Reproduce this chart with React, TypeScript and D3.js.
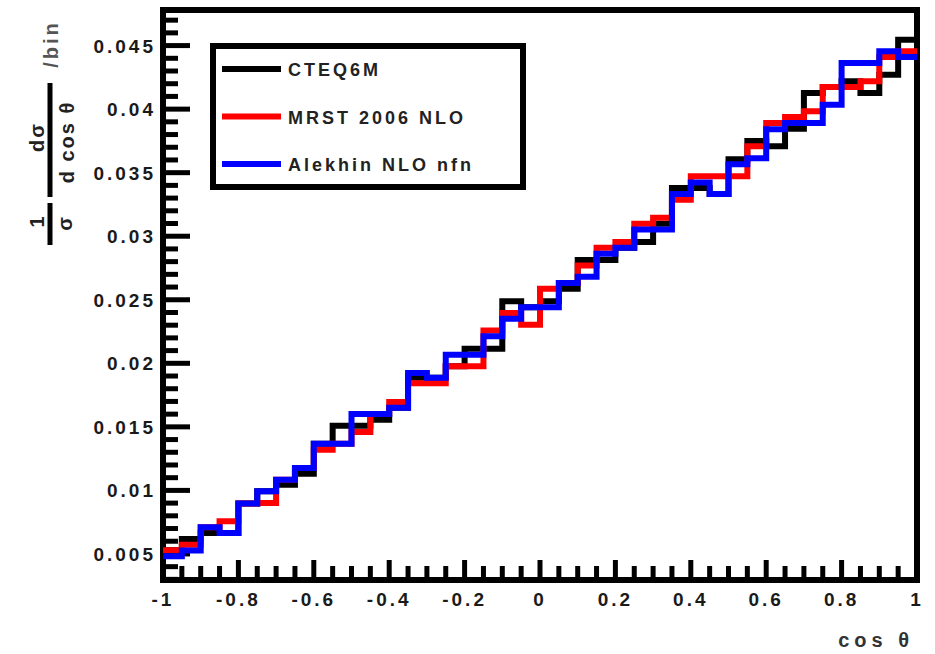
import { useEffect, useRef } from 'react';
import * as d3 from 'd3';

// 40 bins of 0.05 in cos theta, from -1 to 1
const binLow = -1;
const binWidth = 0.05;

const cteq6m = [0.00529, 0.00618, 0.00665, 0.00665, 0.00896, 0.00993, 0.01045, 0.01131, 0.01367, 0.01508,
    0.01508, 0.01556, 0.01650, 0.01886, 0.01886, 0.01976, 0.02115, 0.02115, 0.02489, 0.02441,
    0.02489, 0.02586, 0.02813, 0.02813, 0.02909, 0.02954, 0.03098, 0.03379, 0.03379, 0.03333,
    0.03606, 0.03750, 0.03707, 0.03845, 0.04126, 0.04174, 0.04219, 0.04126, 0.04270, 0.04546];

const mrst2006 = [0.00529, 0.00573, 0.00711, 0.00758, 0.00896, 0.00901, 0.01084, 0.01177, 0.01320, 0.01367,
    0.01460, 0.01601, 0.01696, 0.01843, 0.01843, 0.01976, 0.01976, 0.02258, 0.02396, 0.02304,
    0.02586, 0.02632, 0.02769, 0.02909, 0.02954, 0.03098, 0.03145, 0.03287, 0.03471, 0.03471,
    0.03471, 0.03707, 0.03890, 0.03938, 0.03983, 0.04174, 0.04174, 0.04219, 0.04410, 0.04455];

const alekhin = [0.00482, 0.00528, 0.00711, 0.00665, 0.00896, 0.00993, 0.01084, 0.01177, 0.01367, 0.01367,
    0.01601, 0.01601, 0.01650, 0.01924, 0.01886, 0.02067, 0.02067, 0.02213, 0.02350, 0.02441,
    0.02441, 0.02632, 0.02681, 0.02862, 0.02909, 0.03053, 0.03053, 0.03333, 0.03422, 0.03333,
    0.03566, 0.03613, 0.03842, 0.03890, 0.03890, 0.04034, 0.04362, 0.04362, 0.04455, 0.04410];

const seriesNames = ['CTEQ6M', 'MRST 2006 NLO', 'Alekhin NLO nfn'];
const seriesColors = ['#000000', '#ff0000', '#0000ff'];

const xTickValues = [-1, -0.8, -0.6, -0.4, -0.2, 0, 0.2, 0.4, 0.6, 0.8, 1];
const xTickLabels = ['-1', '-0.8', '-0.6', '-0.4', '-0.2', '0', '0.2', '0.4', '0.6', '0.8', '1'];
const yTickValues = [0.005, 0.01, 0.015, 0.02, 0.025, 0.03, 0.035, 0.04, 0.045];
const yTickLabels = ['0.005', '0.01', '0.015', '0.02', '0.025', '0.03', '0.035', '0.04', '0.045'];

const font = '"Liberation Sans", Arial, sans-serif';

function AngularDistribution() {
    const svgRef = useRef<SVGSVGElement>(null);

    useEffect(() => {
        const width = 935;
        const height = 654;
        const plot = { left: 163, right: 917, top: 10, bottom: 580 };

        d3.select(svgRef.current).selectAll('*').remove();
        const svg = d3.select(svgRef.current)
            .attr('width', width)
            .attr('height', height);

        svg.append('rect').attr('width', width).attr('height', height).attr('fill', '#fff');

        const x = d3.scaleLinear().domain([-1, 1]).range([plot.left, plot.right]);
        const y = d3.scaleLinear().domain([0.00295, 0.0478]).range([plot.bottom, plot.top]);

        // frame
        svg.append('rect')
            .attr('x', plot.left).attr('y', plot.top)
            .attr('width', plot.right - plot.left).attr('height', plot.bottom - plot.top)
            .attr('fill', 'none').attr('stroke', '#000').attr('stroke-width', 6);

        // x ticks: one per bin edge, long ones every 0.2
        const xMinor = d3.range(41).map(i => binLow + i * binWidth);
        svg.append('g').selectAll('line')
            .data(xMinor)
            .join('line')
            .attr('x1', d => x(d)).attr('x2', d => x(d))
            .attr('y1', plot.bottom)
            .attr('y2', (d, i) => plot.bottom - (i % 4 === 0 ? 20 : 14))
            .attr('stroke', '#000').attr('stroke-width', 5);

        // y ticks every 0.001, long ones every 0.005
        const yMinor = d3.range(3, 48).map(i => i / 1000);
        svg.append('g').selectAll('line')
            .data(yMinor)
            .join('line')
            .attr('x1', plot.left)
            .attr('x2', (d, i) => plot.left + ((i + 3) % 5 === 0 ? 27 : 15))
            .attr('y1', d => y(d)).attr('y2', d => y(d))
            .attr('stroke', '#000').attr('stroke-width', 5);

        svg.append('g').selectAll('text')
            .data(xTickValues)
            .join('text')
            .attr('x', d => x(d))
            .attr('y', 606)
            .attr('text-anchor', 'middle')
            .attr('font-family', font).attr('font-weight', 'bold').attr('font-size', 19)
            .attr('letter-spacing', 3)
            .attr('fill', '#1a1a1a')
            .text((d, i) => xTickLabels[i]);

        svg.append('g').selectAll('text')
            .data(yTickValues)
            .join('text')
            .attr('x', 156)
            .attr('y', d => y(d) + 7)
            .attr('text-anchor', 'end')
            .attr('font-family', font).attr('font-weight', 'bold').attr('font-size', 19)
            .attr('letter-spacing', 3)
            .attr('fill', '#1a1a1a')
            .text((d, i) => yTickLabels[i]);

        // axis titles
        svg.append('text')
            .attr('x', 914).attr('y', 647)
            .attr('text-anchor', 'end')
            .attr('font-family', font).attr('font-weight', 'bold').attr('font-size', 20)
            .attr('letter-spacing', 5)
            .attr('fill', '#333')
            .text('cos θ');

        // rotated y title: 1/σ dσ/dcosθ /bin
        const yt = svg.append('g')
            .attr('transform', 'translate(50,0) rotate(-90)')
            .attr('font-family', font).attr('font-weight', 'bold').attr('font-size', 20)
            .attr('fill', '#222').attr('text-anchor', 'middle');
        yt.append('text').attr('x', -222).attr('y', -6).text('1');
        yt.append('line').attr('x1', -245).attr('x2', -203).attr('y1', 0).attr('y2', 0)
            .attr('stroke', '#000').attr('stroke-width', 5);
        yt.append('text').attr('x', -224).attr('y', 22).text('σ');
        yt.append('line').attr('x1', -197).attr('x2', -83).attr('y1', 0).attr('y2', 0)
            .attr('stroke', '#000').attr('stroke-width', 5);
        yt.append('text').attr('x', -137).attr('y', -6).attr('letter-spacing', 2).text('dσ');
        yt.append('text').attr('x', -142).attr('y', 24).attr('letter-spacing', 2).text('d cos θ');
        yt.append('text').attr('x', -44).attr('y', 8).attr('letter-spacing', 3).attr('fill', '#555').text('/bin');

        // histograms, black under red under blue
        const step = d3.line<[number, number]>()
            .x(d => x(d[0]))
            .y(d => y(d[1]))
            .curve(d3.curveStepAfter);

        [cteq6m, mrst2006, alekhin].forEach((values, k) => {
            const pts: [number, number][] = values.map((v, i) => [binLow + i * binWidth, v]);
            pts.push([1, values[values.length - 1]]);
            svg.append('path')
                .attr('d', step(pts))
                .attr('fill', 'none')
                .attr('stroke', seriesColors[k])
                .attr('stroke-width', 6)
                .attr('stroke-linejoin', 'miter');
        });

        // legend
        const legend = svg.append('g');
        legend.append('rect')
            .attr('x', 213).attr('y', 46).attr('width', 310).attr('height', 141)
            .attr('fill', '#fff').attr('stroke', '#000').attr('stroke-width', 6);
        const rowY = d3.scalePoint<string>().domain(seriesNames).range([69, 164]);
        seriesNames.forEach((name, k) => {
            legend.append('line')
                .attr('x1', 222).attr('x2', 281)
                .attr('y1', rowY(name)!).attr('y2', rowY(name)!)
                .attr('stroke', seriesColors[k]).attr('stroke-width', 6);
            legend.append('text')
                .attr('x', 288).attr('y', rowY(name)! + 7)
                .attr('font-family', font).attr('font-weight', 'bold').attr('font-size', 18)
                .attr('letter-spacing', 3)
                .attr('fill', '#222')
                .text(name);
        });
    }, []);

    return <svg ref={svgRef} style={{ position: 'absolute', left: 0, top: 0 }} />;
}

export default function App() {
    return <AngularDistribution />;
}
